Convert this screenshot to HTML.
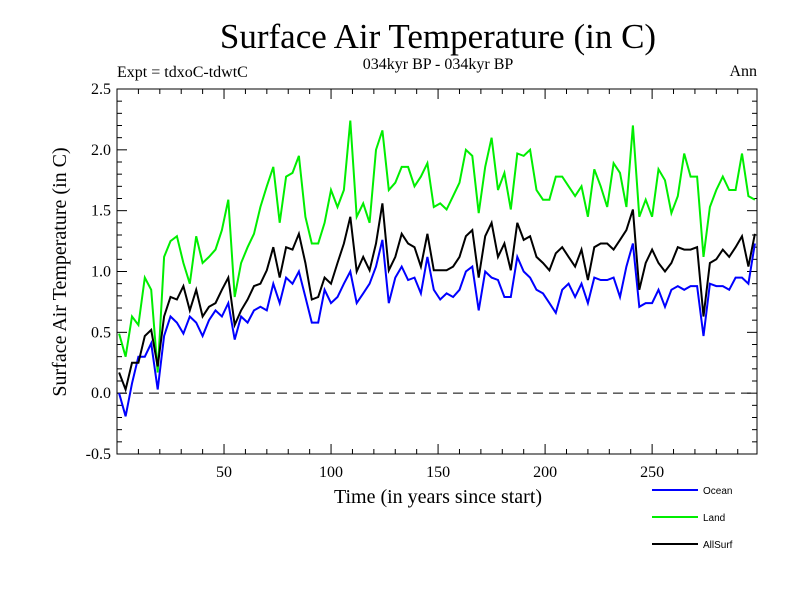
<!DOCTYPE html>
<html><head><meta charset="utf-8"><style>
body{margin:0;background:#fff;}
svg{display:block;font-family:"Liberation Serif",serif;}
</style></head><body>
<svg id="chart" width="800" height="600" xmlns="http://www.w3.org/2000/svg">
<text x="438" y="48" font-size="35" text-anchor="middle">Surface Air Temperature (in C)</text>
<text x="438" y="69" font-size="16" text-anchor="middle">034kyr BP - 034kyr BP</text>
<text x="117" y="77" font-size="16">Expt = tdxoC-tdwtC</text>
<text x="757" y="76" font-size="16" text-anchor="end">Ann</text>
<text transform="translate(66,272) rotate(-90)" font-size="20" text-anchor="middle">Surface Air Temperature (in C)</text>
<text x="438" y="503" font-size="20" text-anchor="middle">Time (in years since start)</text>
<g id="axes"></g>
<g id="series"></g>
<g id="legend" font-family="Liberation Sans, sans-serif" font-size="10"></g>
</svg>
<script>
const years = [];
for (let t = 1; t <= 298; t += 3) years.push(t);
const ocean = [0.0,-0.19,0.08,0.3,0.3,0.41,0.03,0.47,0.63,0.58,0.49,0.63,0.58,0.47,0.6,0.68,0.63,0.74,0.44,0.63,0.58,0.68,0.71,0.68,0.9,0.74,
0.95,0.9,1.0,0.79,0.58,0.58,0.85,0.74,0.79,0.9,1.0,0.74,0.82,0.9,1.04,1.26,0.74,0.95,1.04,0.93,0.95,0.82,1.12,0.85,0.77,
0.82,0.79,0.85,1.0,1.04,0.68,1.0,0.95,0.93,0.79,0.79,1.12,1.0,0.95,0.85,0.82,0.74,0.66,0.85,0.9,0.79,0.9,0.74,0.95,0.93,
0.93,0.95,0.79,1.04,1.23,0.71,0.74,0.74,0.85,0.71,0.85,0.88,0.85,0.88,0.88,0.47,0.9,0.88,0.88,0.85,0.95,0.95,0.9,1.23];
const land = [0.49,0.3,0.63,0.56,0.95,0.85,0.17,1.12,1.25,1.29,1.07,0.9,1.29,1.07,1.12,1.18,1.34,1.59,0.79,1.07,1.2,1.31,1.53,1.7,1.86,1.4,
1.78,1.81,1.95,1.45,1.23,1.23,1.4,1.67,1.53,1.67,2.24,1.45,1.56,1.4,2.0,2.16,1.67,1.73,1.86,1.86,1.7,1.78,1.89,1.53,1.56,
1.51,1.62,1.73,2.0,1.95,1.48,1.86,2.1,1.67,1.81,1.51,1.97,1.95,2.0,1.67,1.59,1.59,1.78,1.78,1.7,1.62,1.7,1.45,1.84,1.7,
1.53,1.89,1.81,1.53,2.2,1.45,1.59,1.45,1.84,1.75,1.48,1.62,1.97,1.78,1.78,1.12,1.53,1.67,1.78,1.67,1.67,1.97,1.62,1.59];
const allsurf = [0.17,0.03,0.25,0.25,0.47,0.52,0.22,0.63,0.79,0.77,0.88,0.68,0.85,0.63,0.71,0.74,0.85,0.95,0.56,0.68,0.77,0.88,0.9,1.01,1.2,0.95,
1.2,1.18,1.31,1.07,0.77,0.79,0.95,0.9,1.07,1.23,1.45,1.0,1.12,1.01,1.23,1.56,1.01,1.12,1.31,1.23,1.2,1.04,1.31,1.01,1.01,
1.01,1.04,1.12,1.29,1.34,0.95,1.29,1.4,1.12,1.23,1.01,1.4,1.26,1.29,1.12,1.07,1.01,1.15,1.2,1.12,1.04,1.18,0.93,1.2,1.23,
1.23,1.18,1.26,1.34,1.51,0.85,1.07,1.18,1.07,1.0,1.07,1.2,1.18,1.18,1.2,0.63,1.07,1.1,1.18,1.12,1.2,1.29,1.04,1.31];
const yTicks = [-0.5,0.0,0.5,1.0,1.5,2.0,2.5];
const yTickLabels = ["-0.5","0.0","0.5","1.0","1.5","2.0","2.5"];
const xTicks = [50,100,150,200,250];
const xTickLabels = ["50","100","150","200","250"];

const NS = "http://www.w3.org/2000/svg";
const L = 117, R = 757, T = 89, B = 454;
const xs = t => L + (t) * (R - L) / 299;
const ys = v => B - (v + 0.5) * (B - T) / 3;
function mk(tag, attrs, parent) {
  const e = document.createElementNS(NS, tag);
  for (const k in attrs) e.setAttribute(k, attrs[k]);
  parent.appendChild(e); return e;
}
const axes = document.getElementById('axes');
const frame = mk('rect', {x:L, y:T, width:R-L, height:B-T, fill:'none', stroke:'#000', 'stroke-width':1}, axes);


for (let i = 0; i <= 30; i++) {
  const v = -0.5 + i * 0.1, y = ys(v), len = (i % 5 === 0) ? 10 : 5;
  mk('line', {x1:L, x2:L+len, y1:y, y2:y, stroke:'#000'}, axes);
  mk('line', {x1:R, x2:R-len, y1:y, y2:y, stroke:'#000'}, axes);
}
yTicks.forEach((v, i) => {
  const tx = mk('text', {x:L-6, y:ys(v)+5, 'font-size':16, 'text-anchor':'end'}, axes);
  tx.textContent = yTickLabels[i];
  
  
});
for (let t = 10; t < 300; t += 10) {
  const x = xs(t), len = (t % 50 === 0) ? 10 : 5;
  mk('line', {x1:x, x2:x, y1:B, y2:B-len, stroke:'#000'}, axes);
  mk('line', {x1:x, x2:x, y1:T, y2:T+len, stroke:'#000'}, axes);
}
xTicks.forEach((t, i) => {
  const tx = mk('text', {x:xs(t), y:B+23, 'font-size':16, 'text-anchor':'middle'}, axes);
  tx.textContent = xTickLabels[i];
  
  
});
const zero = mk('line', {x1:L, x2:R, y1:ys(0), y2:ys(0), stroke:'#000', 'stroke-dasharray':'10,6'}, axes);



const sg = document.getElementById('series');
function line(vals, color, name) {
  const d = vals.map((v, i) => (i ? 'L' : 'M') + xs(years[i]).toFixed(1) + ',' + ys(v).toFixed(1)).join('');
  const p = mk('path', {d:d, fill:'none', stroke:color, 'stroke-width':2}, sg);
  
  
}
line(land, '#00ee00', 'land-line');
line(ocean, '#0000ff', 'ocean-line');
line(allsurf, '#000000', 'allsurf-line');

const lg = document.getElementById('legend');
[['Ocean', '#0000ff', 490], ['Land', '#00ee00', 517], ['AllSurf', '#000000', 544]].forEach(([n, c, y]) => {
  const g = mk('g', {}, lg);
  
  
  mk('line', {x1:652, x2:698, y1:y, y2:y, stroke:c, 'stroke-width':2}, g);
  const tx = mk('text', {x:703, y:y+4}, g);
  tx.textContent = n;
});
</script>
</body></html>
